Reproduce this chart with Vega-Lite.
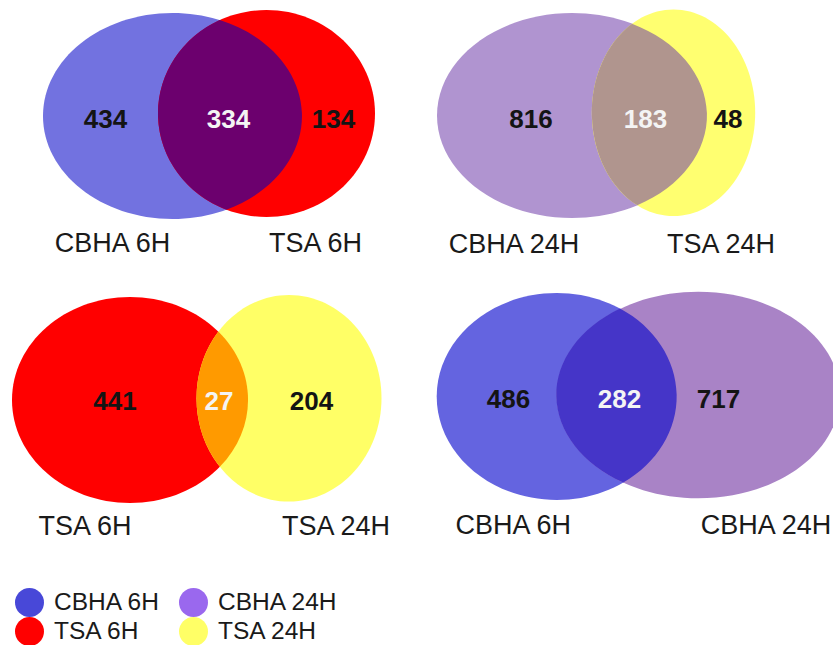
{
  "$schema": "https://vega.github.io/schema/vega-lite/v6.json",
  "width": 833,
  "height": 645,
  "autosize": {"type": "none"},
  "padding": 0,
  "background": "white",
  "config": {"view": {"stroke": null}, "font": "Liberation Sans"},
  "datasets": {
    "shapes": [
      {"panel": "A", "part": "CBHA 6H", "id": "A1", "x": 172.5, "y": 116},
      {"panel": "A", "part": "TSA 6H", "id": "A2", "x": 266.5, "y": 113.5},
      {"panel": "A", "part": "overlap", "id": "A12", "x": 172.5, "y": 116},
      {"panel": "B", "part": "CBHA 24H", "id": "B1", "x": 572, "y": 115.5},
      {"panel": "B", "part": "TSA 24H", "id": "B2", "x": 673.5, "y": 112.7},
      {"panel": "B", "part": "overlap", "id": "B12", "x": 572, "y": 115.5},
      {"panel": "C", "part": "TSA 6H", "id": "C1", "x": 130, "y": 400},
      {"panel": "C", "part": "TSA 24H", "id": "C2", "x": 289, "y": 398.3},
      {"panel": "C", "part": "overlap", "id": "C12", "x": 130, "y": 400},
      {"panel": "D", "part": "CBHA 6H", "id": "D1", "x": 556.7, "y": 396.5},
      {"panel": "D", "part": "CBHA 24H", "id": "D2", "x": 698.3, "y": 395},
      {"panel": "D", "part": "overlap", "id": "D12", "x": 556.7, "y": 396.5}
    ],
    "counts": [
      {"panel": "A", "region": "CBHA 6H only", "kind": "unique", "count": 434, "x": 105.5, "y": 127.5},
      {"panel": "A", "region": "both", "kind": "shared", "count": 334, "x": 228.5, "y": 127.5},
      {"panel": "A", "region": "TSA 6H only", "kind": "unique", "count": 134, "x": 333.5, "y": 127.5},
      {"panel": "B", "region": "CBHA 24H only", "kind": "unique", "count": 816, "x": 531, "y": 128},
      {"panel": "B", "region": "both", "kind": "shared", "count": 183, "x": 645.5, "y": 128},
      {"panel": "B", "region": "TSA 24H only", "kind": "unique", "count": 48, "x": 728, "y": 128},
      {"panel": "C", "region": "TSA 6H only", "kind": "unique", "count": 441, "x": 115, "y": 410},
      {"panel": "C", "region": "both", "kind": "shared", "count": 27, "x": 219, "y": 410},
      {"panel": "C", "region": "TSA 24H only", "kind": "unique", "count": 204, "x": 311.5, "y": 410},
      {"panel": "D", "region": "CBHA 6H only", "kind": "unique", "count": 486, "x": 508.5, "y": 408},
      {"panel": "D", "region": "both", "kind": "shared", "count": 282, "x": 619.5, "y": 408},
      {"panel": "D", "region": "CBHA 24H only", "kind": "unique", "count": 717, "x": 718.5, "y": 408}
    ],
    "labels": [
      {"panel": "A", "set": "CBHA 6H", "x": 112.5, "y": 252.3},
      {"panel": "A", "set": "TSA 6H", "x": 315.5, "y": 252.3},
      {"panel": "B", "set": "CBHA 24H", "x": 514, "y": 253},
      {"panel": "B", "set": "TSA 24H", "x": 721, "y": 253},
      {"panel": "C", "set": "TSA 6H", "x": 85, "y": 535},
      {"panel": "C", "set": "TSA 24H", "x": 336, "y": 535},
      {"panel": "D", "set": "CBHA 6H", "x": 513.3, "y": 534},
      {"panel": "D", "set": "CBHA 24H", "x": 766, "y": 534}
    ],
    "sets": [
      {"set": "CBHA 6H"},
      {"set": "CBHA 24H"},
      {"set": "TSA 6H"},
      {"set": "TSA 24H"}
    ]
  },
  "layer": [
    {
      "data": {"name": "shapes"},
      "mark": {"type": "point", "filled": true, "opacity": 1, "size": 4, "strokeWidth": 0},
      "encoding": {
        "x": {"field": "x", "type": "quantitative", "scale": {"domain": [0, 833], "nice": false, "zero": false}, "axis": null},
        "y": {"field": "y", "type": "quantitative", "scale": {"domain": [0, 645], "nice": false, "zero": false, "reverse": true}, "axis": null},
        "shape": {
          "field": "id", "type": "nominal", "legend": null,
          "scale": {
            "domain": ["A1", "A2", "A12", "B1", "B2", "B12", "C1", "C2", "C12", "D1", "D2", "D12"],
            "range": [
              "M-129.5,0A129.5,103 0 1,0 129.5,0A129.5,103 0 1,0 -129.5,0Z",
              "M-108.5,0A108.5,103.5 0 1,0 108.5,0A108.5,103.5 0 1,0 -108.5,0Z",
              "M47.2,-95.9A129.5,103 0 0,1 53.9,93.65A108.5,103.5 0 0,1 47.2,-95.9Z",
              "M-135,0A135,102.5 0 1,0 135,0A135,102.5 0 1,0 -135,0Z",
              "M-81.7,0A81.7,103.3 0 1,0 81.7,0A81.7,103.3 0 1,0 -81.7,0Z",
              "M60,-91.8A135,102.5 0 0,1 65.3,89.7A81.7,103.3 0 0,1 60,-91.8Z",
              "M-118,0A118,103 0 1,0 118,0A118,103 0 1,0 -118,0Z",
              "M-92.5,0A92.5,103.3 0 1,0 92.5,0A92.5,103.3 0 1,0 -92.5,0Z",
              "M88.3,-68.4A118,103 0 0,1 89.8,66.8A92.5,103.3 0 0,1 88.3,-68.4Z",
              "M-120,0A120,103.5 0 1,0 120,0A120,103.5 0 1,0 -120,0Z",
              "M-141.7,0A141.7,103.3 0 1,0 141.7,0A141.7,103.3 0 1,0 -141.7,0Z",
              "M63.3,-87.9A120,103.5 0 0,1 66.6,86.1A141.7,103.3 0 0,1 63.3,-87.9Z"
            ]
          }
        },
        "fill": {
          "field": "id", "type": "nominal", "legend": null,
          "scale": {
            "domain": ["A1", "A2", "A12", "B1", "B2", "B12", "C1", "C2", "C12", "D1", "D2", "D12"],
            "range": ["#7272e0", "#ff0000", "#6c006e", "#b094d0", "#ffff70", "#b0958e", "#ff0000", "#ffff66", "#ff9a00", "#6464e0", "#a983c6", "#4535c8"]
          }
        }
      }
    },
    {
      "data": {"name": "counts"},
      "mark": {"type": "text", "font": "Liberation Sans", "fontWeight": "bold", "fontSize": 26, "align": "center", "baseline": "alphabetic"},
      "encoding": {
        "x": {"field": "x", "type": "quantitative"},
        "y": {"field": "y", "type": "quantitative"},
        "text": {"field": "count", "type": "quantitative"},
        "color": {"field": "kind", "type": "nominal", "legend": null, "scale": {"domain": ["unique", "shared"], "range": ["#141414", "#f4f4f4"]}}
      }
    },
    {
      "data": {"name": "labels"},
      "mark": {"type": "text", "font": "Liberation Sans", "fontSize": 27, "align": "center", "baseline": "alphabetic", "color": "#1a1a1a"},
      "encoding": {
        "x": {"field": "x", "type": "quantitative"},
        "y": {"field": "y", "type": "quantitative"},
        "text": {"field": "set", "type": "nominal"}
      }
    },
    {
      "data": {"name": "sets"},
      "mark": {"type": "point", "filled": true, "opacity": 0, "size": 0},
      "encoding": {
        "color": {
          "field": "set", "type": "nominal",
          "scale": {"domain": ["CBHA 6H", "CBHA 24H", "TSA 6H", "TSA 24H"], "range": ["#4848d8", "#9a68ee", "#ff0000", "#ffff66"]},
          "legend": {
            "orient": "none", "legendX": 15, "legendY": 588, "direction": "horizontal", "columns": 2,
            "title": null, "symbolType": "circle", "symbolSize": 841, "symbolOpacity": 1, "symbolStrokeWidth": 0,
            "labelFontSize": 24.5, "labelFont": "Liberation Sans", "labelColor": "#1a1a1a", "labelOffset": 10,
            "columnPadding": 18, "rowPadding": 0, "padding": 0, "labelLimit": 300
          }
        }
      }
    }
  ],
  "resolve": {"scale": {"color": "independent", "fill": "independent", "shape": "independent"}}
}
